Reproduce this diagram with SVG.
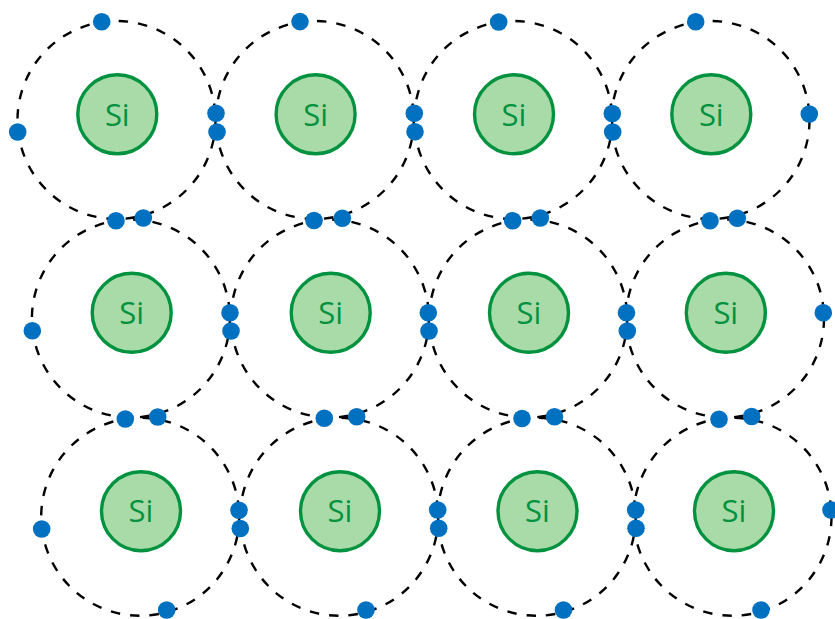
<svg xmlns="http://www.w3.org/2000/svg" width="835" height="619" viewBox="0 0 835 619">
  <style>
    .orbit { fill: none; stroke: #000; stroke-width: 2.4; stroke-dasharray: 9.5 10; }
    .nucleus { fill: #A9DBA9; stroke: #00923F; stroke-width: 3.4; }
    .label { fill: #00923F; font-family: "Open Sans", "Liberation Sans", sans-serif; font-size: 31px; text-anchor: middle; }
    .electron { fill: #0070C0; }
  </style>
  <rect width="835" height="619" fill="#fff"/>

  <!-- silicon atoms: dashed valence shell, nucleus and symbol -->
  <g id="si-r1c1"><circle class="orbit" cx="116.5" cy="120" r="99"/><circle class="nucleus" cx="117.3" cy="114.3" r="39.5"/><text class="label" x="117.3" y="125.5">Si</text></g>
  <g id="si-r1c2"><circle class="orbit" cx="314.8" cy="120" r="99"/><circle class="nucleus" cx="315.6" cy="114.3" r="39.5"/><text class="label" x="315.6" y="125.5">Si</text></g>
  <g id="si-r1c3"><circle class="orbit" cx="513.2" cy="120" r="99"/><circle class="nucleus" cx="514" cy="114.3" r="39.5"/><text class="label" x="514" y="125.5">Si</text></g>
  <g id="si-r1c4"><circle class="orbit" cx="710.5" cy="120" r="99"/><circle class="nucleus" cx="711.3" cy="114.3" r="39.5"/><text class="label" x="711.3" y="125.5">Si</text></g>

  <g id="si-r2c1"><circle class="orbit" cx="130.9" cy="318.5" r="99"/><circle class="nucleus" cx="131.7" cy="312.8" r="39.5"/><text class="label" x="131.7" y="324">Si</text></g>
  <g id="si-r2c2"><circle class="orbit" cx="329.9" cy="318.5" r="99"/><circle class="nucleus" cx="330.7" cy="312.8" r="39.5"/><text class="label" x="330.7" y="324">Si</text></g>
  <g id="si-r2c3"><circle class="orbit" cx="528.2" cy="318.5" r="99"/><circle class="nucleus" cx="529" cy="312.8" r="39.5"/><text class="label" x="529" y="324">Si</text></g>
  <g id="si-r2c4"><circle class="orbit" cx="725" cy="318.5" r="99"/><circle class="nucleus" cx="725.8" cy="312.8" r="39.5"/><text class="label" x="725.8" y="324">Si</text></g>

  <g id="si-r3c1"><circle class="orbit" cx="140.2" cy="516.8" r="99"/><circle class="nucleus" cx="141" cy="511.2" r="39.5"/><text class="label" x="141" y="522.4">Si</text></g>
  <g id="si-r3c2"><circle class="orbit" cx="339.2" cy="516.8" r="99"/><circle class="nucleus" cx="340" cy="511.2" r="39.5"/><text class="label" x="340" y="522.4">Si</text></g>
  <g id="si-r3c3"><circle class="orbit" cx="536.7" cy="516.8" r="99"/><circle class="nucleus" cx="537.5" cy="511.2" r="39.5"/><text class="label" x="537.5" y="522.4">Si</text></g>
  <g id="si-r3c4"><circle class="orbit" cx="732.5" cy="516.8" r="99"/><circle class="nucleus" cx="734" cy="511.2" r="39.5"/><text class="label" x="734" y="522.4">Si</text></g>

  <!-- valence electrons, drawn above every shell -->
  <g id="electrons" class="electron">
    <circle cx="101.7" cy="21.7" r="8.8"/>
    <circle cx="300" cy="21.6" r="8.8"/>
    <circle cx="498.7" cy="22" r="8.8"/>
    <circle cx="695.7" cy="21.7" r="8.8"/>
    <circle cx="17.7" cy="132" r="8.8"/>
    <circle cx="216" cy="113.3" r="8.8"/>
    <circle cx="217" cy="132" r="8.8"/>
    <circle cx="414.3" cy="113.3" r="8.8"/>
    <circle cx="415" cy="131.7" r="8.8"/>
    <circle cx="612.3" cy="113.5" r="8.8"/>
    <circle cx="612.7" cy="132" r="8.8"/>
    <circle cx="809.3" cy="114" r="8.8"/>

    <circle cx="116" cy="220.7" r="8.8"/>
    <circle cx="143.3" cy="218" r="8.8"/>
    <circle cx="314" cy="220.5" r="8.8"/>
    <circle cx="342.3" cy="218.3" r="8.8"/>
    <circle cx="512.7" cy="220.7" r="8.8"/>
    <circle cx="540.3" cy="218" r="8.8"/>
    <circle cx="710" cy="220.7" r="8.8"/>
    <circle cx="737.3" cy="218.3" r="8.8"/>

    <circle cx="32.3" cy="330.7" r="8.8"/>
    <circle cx="230" cy="312.7" r="8.8"/>
    <circle cx="231" cy="331" r="8.8"/>
    <circle cx="428.3" cy="312.7" r="8.8"/>
    <circle cx="429" cy="331" r="8.8"/>
    <circle cx="626.5" cy="312.7" r="8.8"/>
    <circle cx="627.3" cy="331" r="8.8"/>
    <circle cx="823.3" cy="312.7" r="8.8"/>

    <circle cx="125.3" cy="419" r="8.8"/>
    <circle cx="157.7" cy="417" r="8.8"/>
    <circle cx="324.3" cy="418.3" r="8.8"/>
    <circle cx="356.7" cy="416.7" r="8.8"/>
    <circle cx="522" cy="418.5" r="8.8"/>
    <circle cx="554.5" cy="416.7" r="8.8"/>
    <circle cx="719" cy="419.3" r="8.8"/>
    <circle cx="751.7" cy="416.5" r="8.8"/>

    <circle cx="41.7" cy="529" r="8.8"/>
    <circle cx="239" cy="510.3" r="8.8"/>
    <circle cx="240.3" cy="528.5" r="8.8"/>
    <circle cx="437.7" cy="510" r="8.8"/>
    <circle cx="438.7" cy="528.3" r="8.8"/>
    <circle cx="635.7" cy="510" r="8.8"/>
    <circle cx="636" cy="528.3" r="8.8"/>
    <circle cx="831" cy="510" r="8.8"/>

    <circle cx="166.7" cy="610" r="8.8"/>
    <circle cx="366" cy="610" r="8.8"/>
    <circle cx="563.5" cy="610" r="8.8"/>
    <circle cx="761" cy="610" r="8.8"/>
  </g>
</svg>
